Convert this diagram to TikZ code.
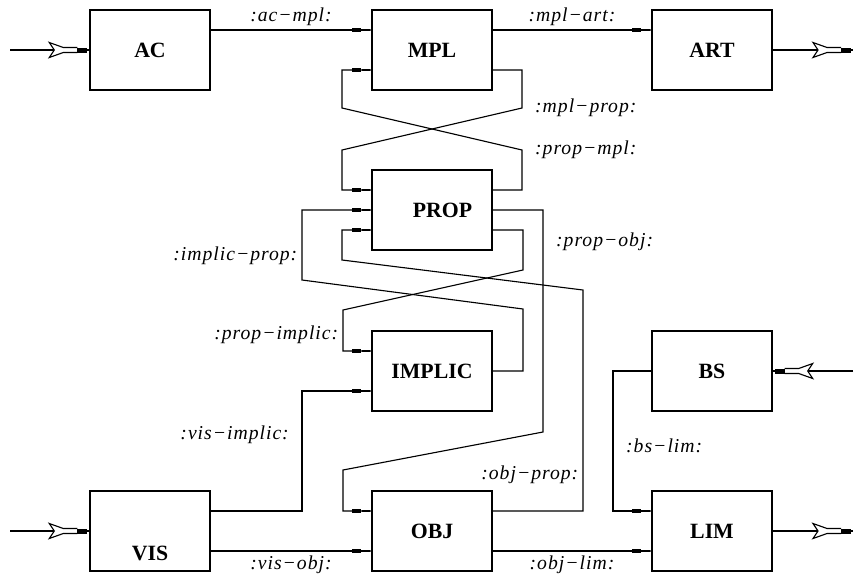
\documentclass[tikz,border=0pt]{standalone}
\usepackage{fontspec}
\setmainfont{Liberation Serif}
\newfontfamily\lblfont[LetterSpace=5]{Liberation Serif}
\usetikzlibrary{arrows.meta, calc}

\begin{document}
\begin{tikzpicture}[x=0.025cm, y=-0.025cm,
    blk/.style={draw, line width=1pt, minimum width=3cm, minimum height=2cm,
      inner sep=0pt, font=\fontsize{15.5}{18}\selectfont\bfseries},
    conn/.style={line width=0.8pt,
      -{Rectangle[length=7pt,width=3.4pt] Rectangle[length=7pt,width=0.8pt]}},
    port/.style={line width=0.8pt},
    portsym/.pic={
      \draw[line width=0.8pt, fill=white] (-12,-2.5) -- (-26,-2.5) -- (-40,-7.5) -- (-35,0)
        -- (-40,7.5) -- (-26,2.5) -- (-12,2.5);
      \fill (-12,-2.5) rectangle (-2,2.5);
    },
    lbl/.style={font=\lblfont\fontsize{14}{16}\selectfont\itshape, inner sep=3pt}]
  \useasboundingbox (0,0) rectangle (854,573);
  % blocks
  \node[blk] (ac)     at (150,50)  {AC};
  \node[blk] (mpl)    at (432,50)  {MPL};
  \node[blk] (art)    at (712,50)  {ART};
  \node[blk] (prop)   at (432,210) {\hspace*{15pt}PROP};
  \node[blk] (implic) at (432,371) {IMPLIC};
  \node[blk] (bs)     at (712,371) {BS};
  \node[blk] (vis)    at (150,531) {\raisebox{-21pt}[0pt][0pt]{VIS}};
  \node[blk] (obj)    at (432,531) {OBJ};
  \node[blk] (lim)    at (712,531) {LIM};
  % outer ports
  \coordinate (ac-in)   at (10,50);
  \coordinate (vis-in)  at (10,531);
  \coordinate (art-out) at (853,50);
  \coordinate (lim-out) at (853,531);
  \coordinate (bs-in)   at (853,371);
  \draw[port] (ac-in) -- (ac.west);
  \draw[port] (vis-in) -- (vis.west);
  \draw[port] (art.east) -- (art-out);
  \draw[port] (lim.east) -- (lim-out);
  \draw[port] (bs-in) -- (bs.east);
  \pic at (ac.west) {portsym};
  \pic at (vis.west) {portsym};
  \pic at (art-out) {portsym};
  \pic at (lim-out) {portsym};
  \pic[rotate=180] at (bs.east) {portsym};
  % straight links
  \draw[conn] ($(ac.east)+(0,-20)$) -- node[lbl, above] {:ac−mpl:} ($(mpl.west)+(0,-20)$);
  \draw[conn] ($(mpl.east)+(0,-20)$) -- node[lbl, above] {:mpl−art:} ($(art.west)+(0,-20)$);
  \draw[conn] ($(vis.east)+(0,20)$) -- node[lbl, below] {:vis−obj:} ($(obj.west)+(0,20)$);
  \draw[conn] ($(obj.east)+(0,20)$) -- node[lbl, below] {:obj−lim:} ($(lim.west)+(0,20)$);
  % crossed links
  \draw[conn] ($(mpl.east)+(0,20)$) -| (522,108) node[lbl, right=6pt] {:mpl−prop:}
    -- (342,150) |- ($(prop.west)+(0,-20)$);
  \draw[conn] ($(prop.east)+(0,-20)$) -| (522,150) node[lbl, right=6pt] {:prop−mpl:}
    -- (342,108) |- ($(mpl.west)+(0,20)$);
  \draw[conn] (implic.east) -| (523,309) -- (302,280)
    -- (302,256) node[lbl, left] {:implic−prop:} |- (prop.west);
  \draw[conn] ($(prop.east)+(0,20)$) -| (523,270) -- (343,310)
    -- (343,335) node[lbl, left] {:prop−implic:} |- ($(implic.west)+(0,-20)$);
  \draw[conn] (prop.east) -| (543,242) node[lbl, right=6pt] {:prop−obj:}
    -- (543,432) -- (343,470) |- ($(obj.west)+(0,-20)$);
  \draw[conn] ($(obj.east)+(0,-20)$) -| (583,475) node[lbl, left] {:obj−prop:}
    -- (583,290) -- (342,260) |- ($(prop.west)+(0,20)$);
  \draw[conn] ($(vis.east)+(0,-20)$) -| (302,435) node[lbl, left=6pt] {:vis−implic:}
    |- ($(implic.west)+(0,20)$);
  \draw[conn] (bs.west) -| (613,446) node[lbl, right=6pt] {:bs−lim:}
    |- ($(lim.west)+(0,-20)$);
\end{tikzpicture}
\end{document}
